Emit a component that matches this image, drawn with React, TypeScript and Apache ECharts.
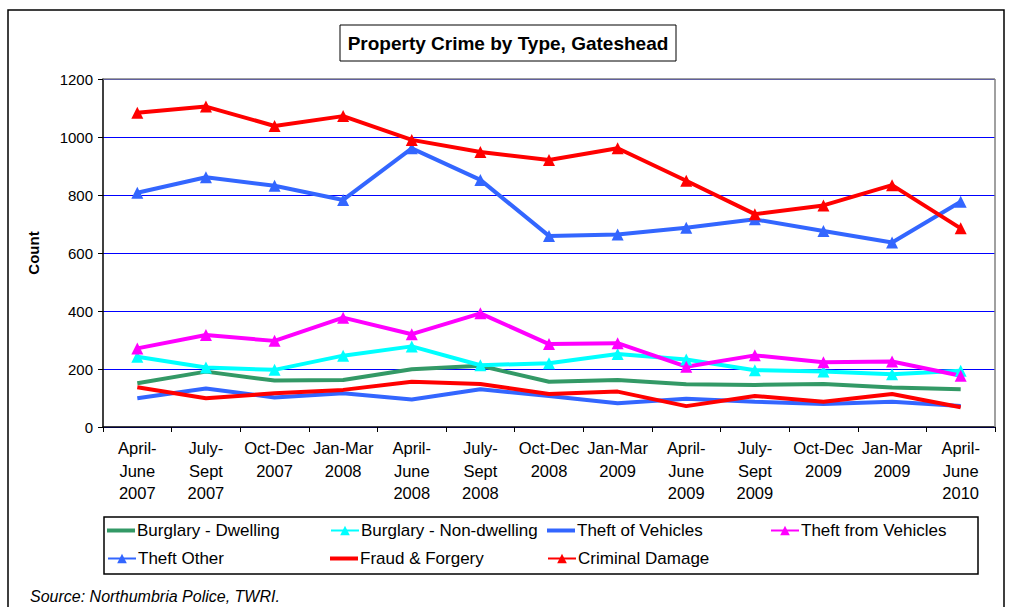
import React, { useEffect, useRef } from "react";
import * as echarts from "echarts";

const categories = [
  "April-\nJune\n2007", "July-\nSept\n2007", "Oct-Dec\n2007", "Jan-Mar\n2008",
  "April-\nJune\n2008", "July-\nSept\n2008", "Oct-Dec\n2008", "Jan-Mar\n2009",
  "April-\nJune\n2009", "July-\nSept\n2009", "Oct-Dec\n2009", "Jan-Mar\n2009",
  "April-\nJune\n2010",
];

const burglaryDwelling = [151, 191, 160, 162, 199, 211, 156, 162, 147, 145, 148, 136, 130];
const burglaryNonDwelling = [242, 205, 197, 246, 278, 213, 220, 252, 233, 196, 191, 182, 194];
const theftOfVehicles = [99, 133, 102, 116, 95, 130, 107, 82, 97, 87, 79, 87, 72];
const theftFromVehicles = [271, 317, 297, 377, 320, 392, 286, 289, 208, 247, 223, 226, 177];
const theftOther = [808, 861, 832, 783, 961, 852, 659, 664, 687, 716, 676, 636, 777];
const fraudForgery = [137, 99, 116, 128, 156, 148, 114, 122, 72, 107, 87, 114, 68];
const criminalDamage = [1084, 1105, 1038, 1072, 990, 948, 921, 961, 849, 734, 764, 834, 685];

const yTicks = [0, 200, 400, 600, 800, 1000, 1200];

const FONT = "'Liberation Sans', Arial, sans-serif";

const seriesDefs = [
  { name: "Burglary - Dwelling", data: burglaryDwelling, color: "#339966", tri: false },
  { name: "Burglary - Non-dwelling", data: burglaryNonDwelling, color: "#00FFFF", tri: true },
  { name: "Theft of Vehicles", data: theftOfVehicles, color: "#3366FF", tri: false },
  { name: "Theft from Vehicles", data: theftFromVehicles, color: "#FF00FF", tri: true },
  { name: "Theft Other", data: theftOther, color: "#3366FF", tri: true },
  { name: "Fraud & Forgery", data: fraudForgery, color: "#FF0000", tri: false },
  { name: "Criminal Damage", data: criminalDamage, color: "#FF0000", tri: true },
];

const legendPos = [
  { left: 107, top: 522 },
  { left: 330, top: 522 },
  { left: 547, top: 522 },
  { left: 770, top: 522 },
  { left: 107, top: 550 },
  { left: 330, top: 550 },
  { left: 547, top: 550 },
];

export default function App() {
  const ref = useRef<HTMLDivElement>(null);
  useEffect(() => {
    document.body.style.margin = "0";
    const chart = echarts.init(ref.current!, null, { renderer: "svg" });
    const option: any = {
      animation: false,
      backgroundColor: "#ffffff",
      textStyle: { fontFamily: FONT, color: "#000" },
      grid: { left: 103, top: 79, width: 892, height: 348, containLabel: false },
      xAxis: {
        type: "category",
        data: categories,
        boundaryGap: true,
        axisLine: { lineStyle: { color: "#000", width: 1.5 } },
        axisTick: { show: true, length: 5, lineStyle: { color: "#000" } },
        axisLabel: {
          interval: 0,
          color: "#000",
          fontSize: 16.5,
          fontFamily: FONT,
          lineHeight: 22.5,
          margin: 10,
          align: "center",
        },
        splitLine: { show: false },
      },
      yAxis: {
        type: "value",
        min: yTicks[0],
        max: yTicks[yTicks.length - 1],
        interval: 200,
        name: "Count",
        nameLocation: "middle",
        nameRotate: 90,
        nameGap: 62,
        nameTextStyle: { fontSize: 15, fontWeight: "bold", color: "#000", fontFamily: FONT },
        axisLine: { show: true, lineStyle: { color: "#000", width: 1.5 } },
        axisTick: { show: true, length: 5, lineStyle: { color: "#000" } },
        axisLabel: {
          color: "#000",
          fontSize: 15,
          fontFamily: FONT,
          margin: 10,
          formatter: (v: number) => String(v),
        },
        splitLine: { show: true, lineStyle: { color: "#0000FF", width: 1, type: "solid" } },
      },
      legend: seriesDefs.map((s, i) => ({
        data: [
          s.tri
            ? { name: s.name }
            : { name: s.name, icon: "path://M0,0 L28,0 L28,4 L0,4 Z" },
        ],
        left: legendPos[i].left,
        top: legendPos[i].top,
        orient: "horizontal",
        itemWidth: 28,
        itemHeight: s.tri ? 12 : 4,
        itemGap: 0,
        padding: 0,
        textStyle: { fontSize: 17, color: "#000", fontFamily: FONT, padding: [0, 0, 0, -3] },
      })),
      series: seriesDefs.map((s) => ({
        type: "line",
        name: s.name,
        data: s.data,
        smooth: false,
        lineStyle: { color: s.color, width: 4 },
        itemStyle: { color: s.color },
        symbol: s.tri ? "triangle" : "none",
        symbolSize: 12,
        showSymbol: s.tri,
        z: 3,
      })),
      graphic: [
        {
          type: "rect",
          shape: { x: 8, y: 10, width: 996, height: 610 },
          style: { fill: "none", stroke: "#000", lineWidth: 1.5 },
          silent: true,
          z: -10,
        },
        {
          type: "rect",
          shape: { x: 340, y: 25, width: 336, height: 36 },
          style: { fill: "#fff", stroke: "#000", lineWidth: 1 },
          silent: true,
        },
        {
          type: "text",
          x: 508,
          y: 43,
          style: {
            text: "Property Crime by Type, Gateshead",
            font: `bold 19px ${FONT}`,
            fill: "#000",
            align: "center",
            verticalAlign: "middle",
          },
          silent: true,
        },
        {
          type: "line",
          shape: { x1: 103, y1: 79, x2: 995, y2: 79 },
          style: { stroke: "#808080", lineWidth: 1.5 },
          silent: true,
          z: 1,
        },
        {
          type: "line",
          shape: { x1: 995, y1: 79, x2: 995, y2: 427 },
          style: { stroke: "#808080", lineWidth: 1.5 },
          silent: true,
          z: 1,
        },
        {
          type: "rect",
          shape: { x: 104, y: 517, width: 874, height: 57 },
          style: { fill: "none", stroke: "#000", lineWidth: 1.5 },
          silent: true,
        },
        {
          type: "text",
          x: 30,
          y: 596,
          style: {
            text: "Source: Northumbria Police, TWRI.",
            font: `italic 16px ${FONT}`,
            fill: "#000",
            verticalAlign: "middle",
          },
          silent: true,
        },
      ],
    };
    chart.setOption(option);
    return () => chart.dispose();
  }, []);
  return <div ref={ref} style={{ width: 1010, height: 607 }} />;
}
